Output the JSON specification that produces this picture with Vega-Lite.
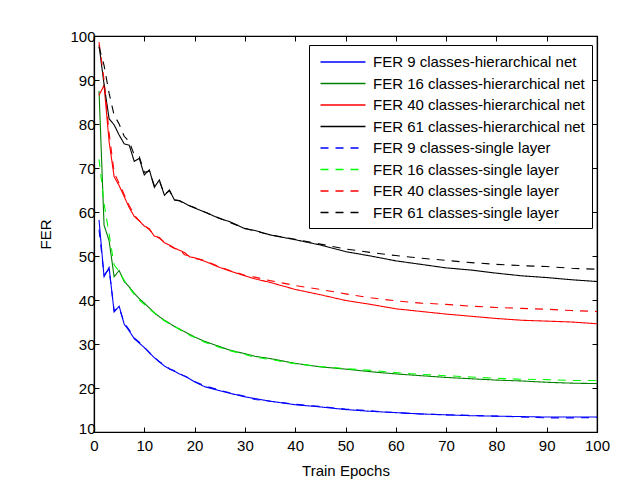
{
  "$schema": "https://vega.github.io/schema/vega-lite/v6.json",
  "width": 503,
  "height": 396,
  "autosize": {"type": "none"},
  "padding": {"left": 94, "top": 36, "right": 36, "bottom": 48},
  "background": "white",
  "config": {
    "font": "Liberation Sans",
    "view": {"stroke": "black", "strokeWidth": 1.2},
    "axis": {"grid": false, "domainColor": "black", "tickColor": "black", "labelColor": "black", "titleColor": "black", "labelFont": "Liberation Sans", "titleFont": "Liberation Sans", "labelFontSize": 15, "titleFontSize": 15, "titleFontWeight": "normal", "tickSize": -5, "domainWidth": 1.2, "tickWidth": 1}
  },
  "data": {"values": [
    {"e":1,"a":58.2,"b":87.5,"c":86.5,"d":97.9,"f":56,"g":72,"h":98.6,"i":97.5},
    {"e":2,"a":45.3,"b":57,"c":88.8,"d":89,"f":45.7,"g":62,"h":90,"i":93.3},
    {"e":3,"a":47.4,"b":53.5,"c":76,"d":81.2,"f":47,"g":55,"h":78,"i":87},
    {"e":4,"a":37.3,"b":45.3,"c":68,"d":79.8,"f":37.6,"g":48,"h":69,"i":82},
    {"e":5,"a":38.6,"b":46.7,"c":66,"d":77.5,"f":38.3,"g":46.5,"h":66.5,"i":80},
    {"e":6,"a":34.5,"b":44.2,"c":63.5,"d":75.5,"f":34.8,"g":44.5,"h":64,"i":77.2},
    {"e":7,"a":33,"b":43,"c":61,"d":75.2,"f":33.2,"g":42.8,"h":61.5,"i":76},
    {"e":8,"a":31.2,"b":41.5,"c":59,"d":71.5,"f":31.4,"g":41.3,"h":59.3,"i":73},
    {"e":9,"a":30.2,"b":40.3,"c":58,"d":72.2,"f":30.4,"g":40,"h":58,"i":72.6},
    {"e":10,"a":29.2,"b":39.3,"c":56.8,"d":68.4,"f":29.3,"g":39,"h":57,"i":69},
    {"e":11,"a":28,"b":38.2,"c":56.2,"d":69.6,"f":28.1,"g":38,"h":56,"i":69.3},
    {"e":12,"a":26.9,"b":37.1,"c":54.5,"d":65.6,"f":27,"g":37,"h":54.7,"i":66},
    {"e":13,"a":25.9,"b":36.2,"c":54.2,"d":67.3,"f":26,"g":36,"h":54,"i":67},
    {"e":14,"a":25,"b":35.4,"c":53,"d":63.8,"f":25.2,"g":35.3,"h":53.2,"i":64},
    {"e":15,"a":24.3,"b":34.7,"c":52.5,"d":65,"f":24.4,"g":34.6,"h":52.3,"i":64.8},
    {"e":16,"a":23.8,"b":34,"c":51.8,"d":62.7,"f":23.9,"g":34,"h":51.7,"i":62.8},
    {"e":17,"a":23.2,"b":33.4,"c":51.3,"d":62.6,"f":23.3,"g":33.3,"h":51.5,"i":62.5},
    {"e":18,"a":22.7,"b":32.8,"c":50.8,"d":62,"f":22.7,"g":32.6,"h":50.3,"i":62},
    {"e":19,"a":22.1,"b":32.2,"c":49.8,"d":61.4,"f":22.2,"g":32,"h":50,"i":61.4},
    {"e":20,"a":21.4,"b":31.6,"c":49.6,"d":60.9,"f":21.5,"g":31.5,"h":49.5,"i":61},
    {"e":22,"a":20.3,"b":30.6,"c":48.8,"d":60,"f":20.5,"g":30.4,"h":49,"i":60},
    {"e":25,"a":19.4,"b":29.4,"c":47.4,"d":58.5,"f":19.5,"g":29.2,"h":47.5,"i":58.6},
    {"e":27,"a":18.8,"b":28.6,"c":46.6,"d":57.8,"f":18.9,"g":28.5,"h":46.7,"i":57.6},
    {"e":30,"a":18,"b":27.8,"c":45.5,"d":56.2,"f":18.1,"g":27.6,"h":45.6,"i":56.3},
    {"e":32,"a":17.6,"b":27.2,"c":44.8,"d":55.8,"f":17.4,"g":27,"h":45.2,"i":55.7},
    {"e":35,"a":17,"b":26.7,"c":44,"d":54.8,"f":17,"g":26.5,"h":44.4,"i":54.8},
    {"e":40,"a":16.2,"b":25.6,"c":42.4,"d":53.7,"f":16.3,"g":25.5,"h":43.3,"i":53.8},
    {"e":45,"a":15.7,"b":24.8,"c":41.2,"d":52.5,"f":15.8,"g":24.9,"h":42.4,"i":52.7},
    {"e":50,"a":15.1,"b":24.3,"c":39.9,"d":51,"f":15.2,"g":24.4,"h":41.4,"i":51.6},
    {"e":55,"a":14.7,"b":23.7,"c":39,"d":50,"f":14.8,"g":24,"h":40.5,"i":50.8},
    {"e":60,"a":14.4,"b":23.2,"c":38,"d":48.9,"f":14.4,"g":23.5,"h":39.8,"i":50.1},
    {"e":65,"a":14.1,"b":22.8,"c":37.4,"d":48.1,"f":14.1,"g":23.1,"h":39.3,"i":49.5},
    {"e":70,"a":13.9,"b":22.4,"c":36.8,"d":47.3,"f":13.9,"g":22.8,"h":39,"i":49},
    {"e":75,"a":13.7,"b":22.1,"c":36.3,"d":46.8,"f":13.8,"g":22.5,"h":38.6,"i":48.5},
    {"e":80,"a":13.6,"b":21.8,"c":35.8,"d":46.1,"f":13.6,"g":22.2,"h":38.3,"i":48.1},
    {"e":85,"a":13.5,"b":21.6,"c":35.4,"d":45.5,"f":13.4,"g":22,"h":38.1,"i":47.8},
    {"e":90,"a":13.4,"b":21.3,"c":35.2,"d":45.1,"f":13.2,"g":21.9,"h":37.9,"i":47.6},
    {"e":95,"a":13.4,"b":21.1,"c":35,"d":44.6,"f":13.2,"g":21.7,"h":37.6,"i":47.2},
    {"e":100,"a":13.4,"b":21,"c":34.6,"d":44.2,"f":13.3,"g":21.7,"h":37.4,"i":47}
  ]},
  "transform": [
    {"fold": ["a","b","c","d","f","g","h","i"], "as": ["k","v"]},
    {"lookup": "k", "from": {"data": {"values": [
      {"k":"a","s":"FER 9 classes-hierarchical net"},
      {"k":"b","s":"FER 16 classes-hierarchical net"},
      {"k":"c","s":"FER 40 classes-hierarchical net"},
      {"k":"d","s":"FER 61 classes-hierarchical net"},
      {"k":"f","s":"FER 9 classes-single layer"},
      {"k":"g","s":"FER 16 classes-single layer"},
      {"k":"h","s":"FER 40 classes-single layer"},
      {"k":"i","s":"FER 61 classes-single layer"}
    ]}, "key": "k", "fields": ["s"]}}
  ],
  "layer": [
    {
      "mark": {"type": "line", "strokeWidth": 1.1, "clip": true},
      "encoding": {
        "x": {"field": "e", "type": "quantitative", "scale": {"domain": [0, 100], "nice": false},
              "axis": {"title": "Train Epochs", "values": [0,10,20,30,40,50,60,70,80,90,100], "labelPadding": 11, "titlePadding": 10, "labelFlush": false}},
        "y": {"field": "v", "type": "quantitative", "scale": {"domain": [10, 100], "nice": false, "zero": false},
              "axis": {"title": "FER", "values": [10,20,30,40,50,60,70,80,90,100], "labelPadding": 4, "labelOffset": {"expr": "datum.value == 10 ? -4 : 0"}, "titlePadding": 16, "titleAnchor": "middle", "labelFlush": false}},
        "color": {"field": "s", "type": "nominal",
          "scale": {"domain": ["FER 9 classes-hierarchical net","FER 16 classes-hierarchical net","FER 40 classes-hierarchical net","FER 61 classes-hierarchical net","FER 9 classes-single layer","FER 16 classes-single layer","FER 40 classes-single layer","FER 61 classes-single layer"],
                    "range": ["#0000ff","#008000","#ff0000","#000000","#0000ff","#00ff00","#ff0000","#000000"]},
          "legend": {"orient": "none", "legendX": 215, "legendY": 9, "title": null, "strokeColor": "black", "fillColor": "white", "padding": 7, "cornerRadius": 0, "labelFontSize": 15, "labelFont": "Liberation Sans", "labelColor": "black", "symbolType": "M-2.5,0H2.5", "symbolSize": 324, "symbolOffset": 17, "labelOffset": 20, "symbolStrokeWidth": 1.3, "rowPadding": 3.5, "labelLimit": 400,
            "encode": {"symbols": {"update": {"stroke": {"scale": "color", "field": "value"}, "fill": {"value": "transparent"}}}}}},
        "strokeDash": {"field": "s", "type": "nominal",
          "scale": {"domain": ["FER 9 classes-hierarchical net","FER 16 classes-hierarchical net","FER 40 classes-hierarchical net","FER 61 classes-hierarchical net","FER 9 classes-single layer","FER 16 classes-single layer","FER 40 classes-single layer","FER 61 classes-single layer"],
                    "range": [[1,0],[1,0],[1,0],[1,0],[8,7],[8,7],[8,7],[8,7]]}},
        "order": {"field": "e", "type": "quantitative"}
      }
    },
    {
      "mark": {"type": "line", "opacity": 0},
      "encoding": {
        "x": {"field": "e", "type": "quantitative", "axis": {"orient": "top", "labels": false, "title": null, "values": [0,10,20,30,40,50,60,70,80,90,100]}},
        "y": {"field": "v", "type": "quantitative", "axis": {"orient": "right", "labels": false, "title": null, "values": [10,20,30,40,50,60,70,80,90,100]}},
        "detail": {"field": "s"}
      }
    }
  ],
  "resolve": {"axis": {"x": "independent", "y": "independent"}}
}
